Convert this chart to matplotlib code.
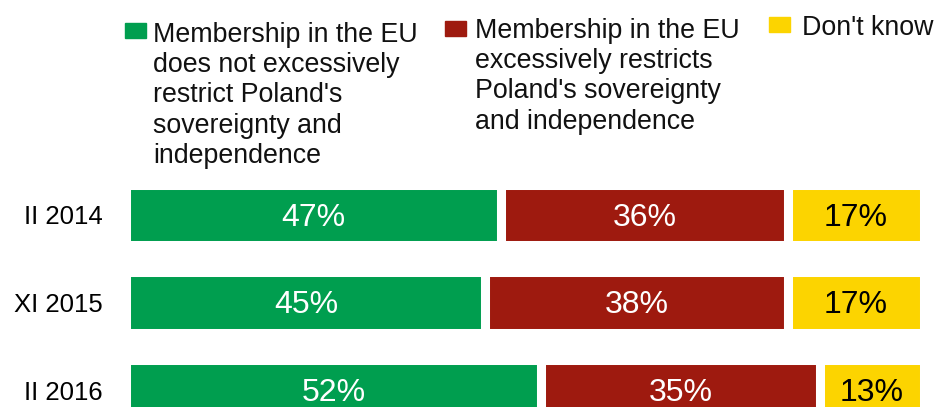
import matplotlib
matplotlib.use("Agg")
import matplotlib.pyplot as plt
from matplotlib.patches import Rectangle

plt.rcParams['font.family'] = ['Liberation Sans', 'DejaVu Sans']

periods = ["II 2014", "XI 2015", "II 2016"]
not_restrict = [47, 45, 52]
restricts = [36, 38, 35]
dont_know = [17, 17, 13]
series_names = [
    "Membership in the EU\ndoes not excessively\nrestrict Poland's\nsovereignty and\nindependence",
    "Membership in the EU\nexcessively restricts\nPoland's sovereignty\nand independence",
    "Don't know",
]
colors = ["#009E4F", "#9E1A0F", "#FCD400"]
label_colors = ["white", "white", "black"]

W, H = 935, 407
fig = plt.figure(figsize=(W / 100, H / 100), dpi=100)

# axes: x 126.5..923.5 px, y 170..407 px (from top)
ax = fig.add_axes([126.5 / W, 0, (923.5 - 126.5) / W, (407 - 170) / H])
ax.set_xlim(0, 100)
ax.set_ylim((407 - 215) / 87.5, -(215 - 170) / 87.5)

ypos = list(range(len(periods)))
left = [0] * len(periods)
for vals, c, lc in zip([not_restrict, restricts, dont_know], colors, label_colors):
    ax.barh(ypos, vals, left=left, height=0.697, color=c,
            edgecolor="white", linewidth=6.5)
    for y, v, l in zip(ypos, vals, left):
        ax.text(l + v / 2, y + 0.03, f"{v}%", ha="center", va="center",
                color=lc, fontsize=23)
    left = [a + b for a, b in zip(left, vals)]

ax.set_yticks(ypos)
ax.set_yticklabels(periods, fontsize=18.5)
ax.tick_params(axis="y", length=0, pad=17)
ax.tick_params(axis="x", bottom=False, labelbottom=False)
for s in ax.spines.values():
    s.set_visible(False)

# legend (manual)
leg = [
    (125, 23, 153, 22),
    (445, 21, 475, 18),
    (769, 17, 802, 15),
]
for (sx, sy, tx, ty), name, c in zip(leg, series_names, colors):
    fig.patches.append(Rectangle((sx / W, 1 - (sy + 15) / H), 21 / W, 15 / H,
                                 transform=fig.transFigure, color=c))
    fig.text(tx / W, 1 - ty / H, name, ha="left", va="top", fontsize=19.3,
             linespacing=1.21, color="#111111")

fig.savefig("out.png", dpi=100)
